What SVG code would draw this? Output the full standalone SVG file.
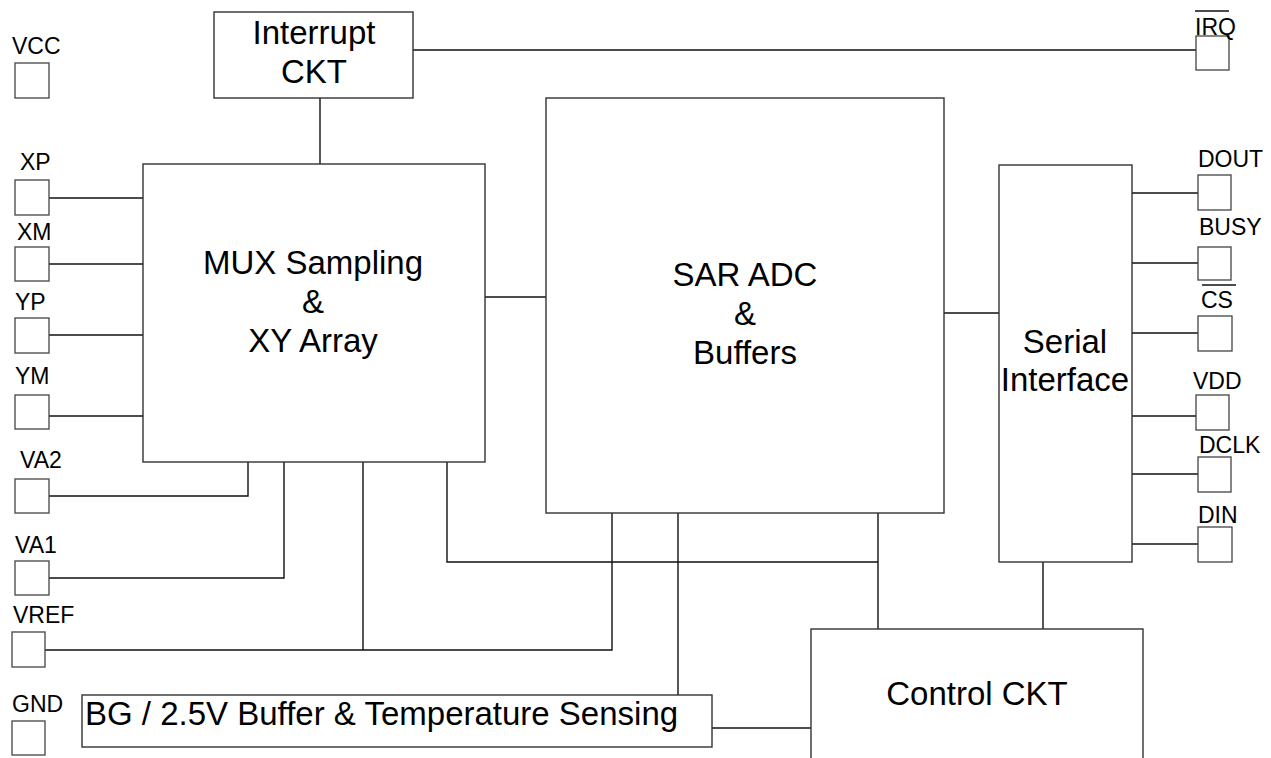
<svg xmlns="http://www.w3.org/2000/svg" width="1271" height="758" viewBox="0 0 1271 758">
<style>
.box{fill:#fff;stroke:#333;stroke-width:1.4}
.pin{fill:#fff;stroke:#444;stroke-width:1.3}
.w{fill:none;stroke:#111;stroke-width:1.4}
.t{font-family:"Liberation Sans",Arial,sans-serif;font-size:33px;fill:#000;text-anchor:middle}
.p{font-family:"Liberation Sans",Arial,sans-serif;font-size:23px;fill:#000}
.ob{stroke:#111;stroke-width:1.4}
</style>
<rect width="1271" height="758" fill="#fff"/>
<g id="connectors">
<line class="w" x1="413" y1="50" x2="1196" y2="50"/>
<line class="w" x1="320" y1="98" x2="320" y2="164"/>
<line class="w" x1="49" y1="198" x2="143" y2="198"/>
<line class="w" x1="49" y1="264" x2="143" y2="264"/>
<line class="w" x1="49" y1="335" x2="143" y2="335"/>
<line class="w" x1="49" y1="416" x2="143" y2="416"/>
<polyline class="w" points="49,496 248,496 248,462"/>
<polyline class="w" points="49,578 284,578 284,462"/>
<polyline class="w" points="45,650 612,650 612,513"/>
<line class="w" x1="363" y1="462" x2="363" y2="650"/>
<line class="w" x1="485" y1="297" x2="546" y2="297"/>
<polyline class="w" points="447,462 447,562 878,562"/>
<line class="w" x1="678" y1="513" x2="678" y2="695"/>
<line class="w" x1="878" y1="513" x2="878" y2="629"/>
<line class="w" x1="944" y1="313" x2="999" y2="313"/>
<line class="w" x1="1043" y1="562" x2="1043" y2="629"/>
<line class="w" x1="712" y1="728" x2="811" y2="728"/>
<line class="w" x1="1132" y1="193" x2="1198" y2="193"/>
<line class="w" x1="1132" y1="263" x2="1198" y2="263"/>
<line class="w" x1="1132" y1="333" x2="1198" y2="333"/>
<line class="w" x1="1129" y1="416" x2="1196" y2="416"/>
<line class="w" x1="1132" y1="474" x2="1198" y2="474"/>
<line class="w" x1="1132" y1="544" x2="1198" y2="544"/>
</g>
<g id="interrupt">
<rect class="box" x="214" y="12" width="199" height="86"/>
<text class="t" x="314" y="44">Interrupt</text>
<text class="t" x="314" y="83">CKT</text>
</g>
<g id="mux">
<rect class="box" x="143" y="164" width="342" height="298"/>
<text class="t" x="313" y="274">MUX Sampling</text>
<text class="t" x="313" y="313">&amp;</text>
<text class="t" x="313" y="352">XY Array</text>
</g>
<g id="sar">
<rect class="box" x="546" y="98" width="398" height="415"/>
<text class="t" x="745" y="286">SAR ADC</text>
<text class="t" x="745" y="325">&amp;</text>
<text class="t" x="745" y="364">Buffers</text>
</g>
<g id="serial">
<rect class="box" x="999" y="165" width="133" height="397"/>
<text class="t" x="1065" y="353">Serial</text>
<text class="t" x="1065" y="391">Interface</text>
</g>
<g id="control">
<rect class="box" x="811" y="629" width="332" height="150"/>
<text class="t" x="977" y="705">Control CKT</text>
</g>
<g id="bg">
<rect class="box" x="82" y="695" width="630" height="52"/>
<text class="t" x="85" y="725" style="text-anchor:start">BG / 2.5V Buffer &amp; Temperature Sensing</text>
</g>
<g id="pin-vcc"><rect class="pin" x="15" y="63" width="34" height="35"/><text class="p" x="12" y="54">VCC</text></g>
<g id="pin-xp"><rect class="pin" x="15" y="180" width="34" height="35"/><text class="p" x="20" y="170">XP</text></g>
<g id="pin-xm"><rect class="pin" x="15" y="247" width="34" height="34"/><text class="p" x="17" y="240">XM</text></g>
<g id="pin-yp"><rect class="pin" x="15" y="318" width="34" height="35"/><text class="p" x="15" y="310">YP</text></g>
<g id="pin-ym"><rect class="pin" x="15" y="395" width="34" height="34"/><text class="p" x="15" y="384">YM</text></g>
<g id="pin-va2"><rect class="pin" x="15" y="479" width="34" height="34"/><text class="p" x="20" y="468">VA2</text></g>
<g id="pin-va1"><rect class="pin" x="15" y="561" width="34" height="34"/><text class="p" x="15" y="553">VA1</text></g>
<g id="pin-vref"><rect class="pin" x="12" y="632" width="33" height="35"/><text class="p" x="13" y="623">VREF</text></g>
<g id="pin-gnd"><rect class="pin" x="12" y="721" width="33" height="34"/><text class="p" x="12" y="712">GND</text></g>
<g id="pin-irq"><rect class="pin" x="1196" y="36" width="33" height="34"/><text class="p" x="1195" y="35">IRQ</text><line class="ob" x1="1195" y1="11" x2="1229" y2="11"/></g>
<g id="pin-dout"><rect class="pin" x="1198" y="175" width="33" height="35"/><text class="p" x="1198" y="167">DOUT</text></g>
<g id="pin-busy"><rect class="pin" x="1198" y="247" width="33" height="33"/><text class="p" x="1199" y="235">BUSY</text></g>
<g id="pin-cs"><rect class="pin" x="1198" y="316" width="34" height="35"/><text class="p" x="1201" y="308">CS</text><line class="ob" x1="1202" y1="285" x2="1236" y2="285"/></g>
<g id="pin-vdd"><rect class="pin" x="1196" y="395" width="33" height="35"/><text class="p" x="1193" y="389">VDD</text></g>
<g id="pin-dclk"><rect class="pin" x="1198" y="457" width="33" height="35"/><text class="p" x="1199" y="453">DCLK</text></g>
<g id="pin-din"><rect class="pin" x="1198" y="527" width="34" height="35"/><text class="p" x="1198" y="523">DIN</text></g>
</svg>
